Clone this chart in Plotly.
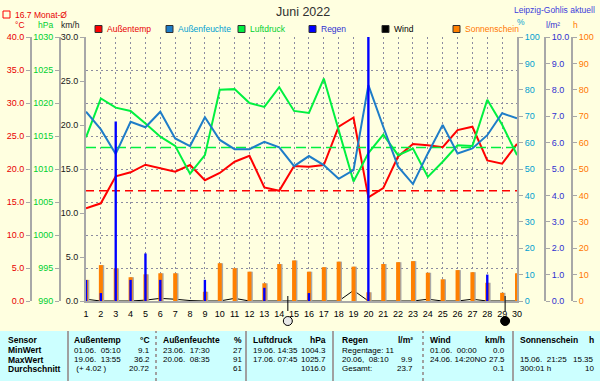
import plotly.graph_objects as go

W, H = 600, 381

# ---------------- data ----------------
days = list(range(1, 31))
temp_c = [14.05, 14.8, 18.9, 19.5, 20.65, 20.1, 19.6, 20.6, 18.3, 19.4,
          21.1, 22.0, 17.2, 16.7, 20.45, 20.35, 20.6, 26.4, 27.8, 15.7,
          17.1, 21.9, 23.8, 23.6, 23.3, 25.9, 26.4, 21.3, 20.8, 23.8]
humidity_pct = [71.7, 65.0, 55.7, 67.9, 65.8, 71.7, 61.6, 58.7, 69.6, 61.0,
                57.5, 57.5, 60.3, 58.2, 51.1, 54.9, 51.5, 46.3, 49.6, 81.8,
                66.0, 50.9, 44.3, 55.9, 66.7, 55.9, 57.8, 62.8, 71.1, 69.2]
pressure_hpa = [1014.8, 1020.7, 1019.3, 1018.8, 1016.9, 1014.9, 1013.5, 1009.3, 1012.1, 1022.0,
                1022.1, 1020.0, 1019.4, 1022.4, 1018.8, 1018.5, 1023.7, 1016.0, 1008.1, 1012.4,
                1015.2, 1012.1, 1013.1, 1008.8, 1011.1, 1013.6, 1013.5, 1020.5, 1016.7, 1012.1]
rain_mm = [0.8, 0.3, 6.8, 0.8, 1.8, 0.8, 0, 0, 0.8, 0,
           0, 0, 0.5, 0, 0, 0.3, 0, 0, 0, 10.0,
           0, 0, 0, 0, 0, 0, 0, 1.0, 0, 0]
wind_kmh = [0.2, 0, 0, 0, 0.1, 0.3, 0.2, 0.05, 0, 0,
            0.3, 0, 0, 0, 0, 0, 0, 0, 1.2, 0,
            0, 0, 0, 0.2, 0, 0, 0.2, 0, 0, 0]
sunshine_h = [8.0, 13.6, 12.4, 9.0, 10.1, 10.5, 10.5, 0, 3.5, 14.3,
              12.4, 11.1, 6.7, 14.0, 15.35, 11.1, 12.8, 14.9, 13.0, 3.3,
              14.0, 14.7, 15.1, 10.7, 8.2, 11.7, 10.9, 6.9, 3.1, 10.5]
temp_month_avg = 16.7
pressure_norm = 1013.25
moon_full_day = 14.58
moon_new_day = 29.2

legend_names = ["Außentemp", "Außenfeuchte", "Luftdruck", "Regen", "Wind", "Sonnenschein"]

table_row_labels = ["Sensor", "MinWert", "MaxWert", "Durchschnitt"]
table_headers = ["Außentemp", "Außenfeuchte", "Luftdruck", "Regen", "Wind", "Sonnenschein"]
table_units = ["°C", "%", "hPa", "l/m²", "km/h", "h"]
table_left = [
    ["01.06.\u00a0 05:10", "19.06.\u00a0 13:55", "\u00a0(+ 4.02 )"],
    ["23.06.\u00a0 17:30", "20.06.\u00a0 08:35", ""],
    ["19.06. 14:35", "17.06. 07:45", ""],
    ["Regentage: 11", "20.06,\u00a0 08:10", "Gesamt:"],
    ["01.06.\u00a0 00:00", "24.06. 14:20NO", ""],
    ["", "15.06.\u00a0 21:25", "300:01 h"],
]
table_right = [
    ["9.1", "36.2", "20.72"],
    ["27", "91", "61"],
    ["1004.3", "1025.7", "1016.0"],
    ["", "9.9", "23.7"],
    ["0.0", "27.5", "0.1"],
    ["", "15.35", "10"],
]

# ---------------- styling ----------------
FONT = "Liberation Sans, Arial, sans-serif"
FS = 8.5
TBL = 8
TFS = 9
BG = "#FFFFE0"
TABLE_BG = "#CCFFFF"
GRID = "#8C8CA0"
AXIS = "#A8A8A8"
C_TEMP = "#FF0000"
C_HUM = "#1E7DC8"
C_PRES = "#00F040"
C_RAIN = "#0000FF"
C_WIND = "#000000"
C_SUN = "#FF8000"
C_TEMP_TXT = "#E80000"
C_HUM_TXT = "#00A0D0"
C_PRES_TXT = "#00D030"
C_RAIN_TXT = "#3030D0"
C_SUN_TXT = "#FF7800"


def px(x):
    return x / W


def py(y):
    return 1 - y / H


fig = go.Figure()

# wind (km/h, main y)
fig.add_trace(go.Scatter(x=days, y=wind_kmh, mode="lines", line=dict(color=C_WIND, width=1),
                         yaxis="y", showlegend=False))
# temperature (°C)
fig.add_trace(go.Scatter(x=days, y=[temp_month_avg] * len(days), mode="lines",
                         line=dict(color=C_TEMP, width=1.5, dash="8px,5px"), yaxis="y2", showlegend=False))
fig.add_trace(go.Scatter(x=days, y=temp_c, mode="lines", line=dict(color=C_TEMP, width=2),
                         yaxis="y2", showlegend=False))
# pressure (hPa)
fig.add_trace(go.Scatter(x=days, y=[pressure_norm] * len(days), mode="lines",
                         line=dict(color=C_PRES, width=1.5, dash="10px,5px"), yaxis="y3", showlegend=False))
fig.add_trace(go.Scatter(x=days, y=pressure_hpa, mode="lines", line=dict(color=C_PRES, width=2),
                         yaxis="y3", showlegend=False))
# humidity (%)
fig.add_trace(go.Scatter(x=days, y=humidity_pct, mode="lines", line=dict(color=C_HUM, width=2),
                         yaxis="y4", showlegend=False))
# sunshine (h) with grey shadow
SUN_W = 0.27
fig.add_trace(go.Bar(x=days, y=sunshine_h, width=SUN_W, offset=-SUN_W / 2 + 0.09,
                     marker=dict(color="#A8A8A8", line=dict(width=0)), yaxis="y5", showlegend=False))
fig.add_trace(go.Bar(x=days, y=sunshine_h, width=SUN_W, offset=-SUN_W / 2,
                     marker=dict(color=C_SUN, line=dict(width=0)), yaxis="y5", showlegend=False))
# rain (l/m²)
RAIN_W = 0.16
fig.add_trace(go.Bar(x=days, y=rain_mm, width=RAIN_W, offset=-RAIN_W / 2,
                     marker=dict(color=C_RAIN, line=dict(width=0)), yaxis="y6", showlegend=False))

ydom = [py(301), py(37)]
tick_common = dict(showline=True, linecolor=AXIS, linewidth=2, ticks="outside", ticklen=4,
                   tickcolor=AXIS, zeroline=False, fixedrange=True, automargin=False)

fig.update_layout(
    width=W, height=H,
    margin=dict(l=0, r=0, t=0, b=0),
    paper_bgcolor=BG, plot_bgcolor=BG,
    font=dict(family=FONT, size=FS, color="black"),
    barmode="overlay",
    xaxis=dict(domain=[px(86), px(517)], range=[1, 30], tickmode="array", tickvals=days,
               ticktext=[str(d) for d in days], showgrid=True, gridcolor=GRID, griddash="2px,3px",
               gridwidth=1, showline=True, linecolor=AXIS, linewidth=2, ticks="",
               ticklabelstandoff=3, tickfont=dict(size=TFS, color="black"), zeroline=False,
               fixedrange=True, anchor="y", automargin=False),
    yaxis=dict(domain=ydom, range=[0, 30], dtick=5, tickformat=".1f", showgrid=False,
               tickfont=dict(color="#202020", size=TFS), side="left", **tick_common),
    yaxis2=dict(overlaying="y", anchor="free", position=px(31), side="left", range=[0, 40], dtick=5,
                tickformat=".1f", showgrid=True, gridcolor=GRID, griddash="2px,3px", gridwidth=1,
                tickfont=dict(color=C_TEMP_TXT, size=TFS), **tick_common),
    yaxis3=dict(overlaying="y", anchor="free", position=px(60), side="left", range=[990, 1030], dtick=5,
                tickformat="d", showgrid=False, tickfont=dict(color=C_PRES_TXT, size=TFS), **tick_common),
    yaxis4=dict(overlaying="y", anchor="x", side="right", range=[0, 100], dtick=10, tickformat="d",
                showgrid=False, tickfont=dict(color=C_HUM_TXT, size=TFS), **tick_common),
    yaxis5=dict(overlaying="y", anchor="free", position=px(572), side="right", range=[0, 100], dtick=10,
                tickformat="d", showgrid=False, tickfont=dict(color=C_SUN_TXT, size=TFS), **tick_common),
    yaxis6=dict(overlaying="y", anchor="free", position=px(545), side="right", range=[0, 10], dtick=1,
                tickformat=".1f", showgrid=False, tickfont=dict(color=C_RAIN_TXT, size=TFS), **tick_common),
)

ann = []
shapes = []


def text(x, y, s, color="black", size=FS, xanchor="left", bold=False, family=FONT):
    ann.append(dict(x=px(x), y=py(y), xref="paper", yref="paper", text=("<b>%s</b>" % s) if bold else s,
                    showarrow=False, xanchor=xanchor, yanchor="middle",
                    font=dict(color=color, size=size, family=family)))


# title & header texts
text(303, 12, "Juni 2022", color="#303030", size=12.5, xanchor="center")
text(597, 10, "Leipzig-Gohlis aktuell", color="#3C3CDC", size=FS, xanchor="right")
shapes.append(dict(type="rect", xref="paper", yref="paper", x0=px(3), x1=px(10), y0=py(18), y1=py(11),
                   line=dict(color=C_TEMP, width=1), fillcolor="rgba(0,0,0,0)"))
text(13, 15, "16.7 Monat-Ø", color=C_TEMP_TXT)

# unit labels
text(20, 25, "°C", color=C_TEMP_TXT, xanchor="center")
text(45, 25, "hPa", color=C_PRES_TXT, xanchor="center")
text(70, 25, "km/h", color="#202020", xanchor="center")
text(521, 22, "%", color=C_HUM_TXT, xanchor="center")
text(553, 25, "l/m²", color=C_RAIN_TXT, xanchor="center")
text(575, 25, "h", color=C_SUN_TXT, xanchor="center")

# legend
legend_colors = [C_TEMP, C_HUM, C_PRES, C_RAIN, C_WIND, C_SUN]
legend_text_colors = [C_TEMP_TXT, C_HUM_TXT, C_PRES_TXT, C_RAIN_TXT, "black", C_SUN_TXT]
legend_x = [95, 166, 238, 309, 382, 453]
for name, c, tc, lx in zip(legend_names, legend_colors, legend_text_colors, legend_x):
    shapes.append(dict(type="rect", xref="paper", yref="paper", x0=px(lx), x1=px(lx + 7),
                       y0=py(32.5), y1=py(25.5), line=dict(color="#303030", width=1), fillcolor=c))
    text(lx + 10, 29, name, color=tc)

# moon phases
for md, fill in [(moon_full_day, "#E8E8E8"), (moon_new_day, "#000000")]:
    shapes.append(dict(type="line", xref="x", yref="paper", x0=md, x1=md, y0=py(296), y1=py(311),
                       line=dict(color="black", width=1)))
    shapes.append(dict(type="circle", xref="x", yref="paper", xsizemode="pixel", ysizemode="pixel",
                       xanchor=md, yanchor=py(321), x0=-4.5, x1=4.5, y0=-4.5, y1=4.5,
                       fillcolor=fill, line=dict(color="black", width=1)))

# statistics table
shapes.append(dict(type="rect", xref="paper", yref="paper", x0=0, x1=1, y0=0, y1=py(331),
                   line=dict(width=0), fillcolor=TABLE_BG, layer="below"))
for sx, dash in [(68, "solid"), (156, "dot"), (246, "solid"), (333, "solid"), (423, "dot"), (513, "solid")]:
    shapes.append(dict(type="line", xref="paper", yref="paper", x0=px(sx), x1=px(sx), y0=0, y1=py(331),
                       line=dict(color="#A0A0A0", width=2, dash=dash)))
row_y = [340, 350, 359.5, 368.5]
for i, lab in enumerate(table_row_labels):
    text(6, row_y[i], lab, bold=True, size=FS)
col_lx = [72, 161, 251, 340, 428, 518]
col_rx = [152, 244, 328, 415, 507, 596]
for j in range(len(table_headers)):
    text(col_lx[j], row_y[0], table_headers[j], bold=True, size=FS)
    text(col_rx[j], row_y[0], table_units[j], bold=True, xanchor="right", size=FS)
    for r in range(3):
        if table_left[j][r]:
            text(col_lx[j], row_y[r + 1], table_left[j][r], size=TBL)
        if table_right[j][r]:
            text(col_rx[j], row_y[r + 1], table_right[j][r], xanchor="right", size=TBL)

fig.update_layout(annotations=ann, shapes=shapes)
fig.write_html("out.html", config={"displayModeBar": False},
               post_script="document.body.style.margin='0px';document.body.style.overflow='hidden';")
